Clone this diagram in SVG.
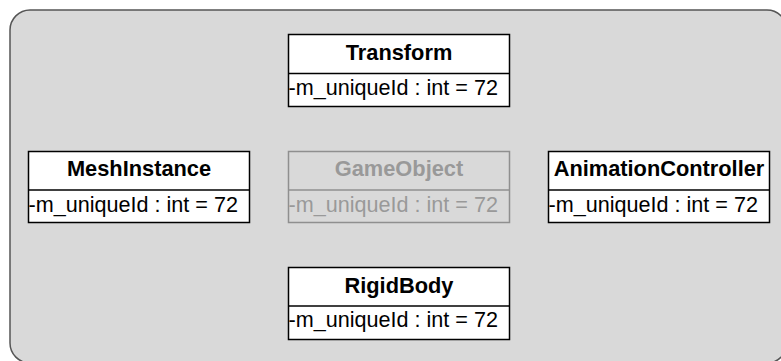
<svg xmlns="http://www.w3.org/2000/svg" width="781" height="361" viewBox="0 0 781 361">
<style>
.bg{fill:#d9d9d9;stroke:#555;stroke-width:1.5}
.box{fill:#fff;stroke:#000;stroke-width:1.5}
.t{font-family:"Liberation Sans",Arial,sans-serif;font-size:21.8px;font-weight:bold;text-anchor:middle;fill:#000}
.a{font-family:"Liberation Sans",Arial,sans-serif;font-size:21.6px;fill:#000}
.dim .box{fill:none;stroke:#8f8f8f}
.dim .t,.dim .a{fill:#999}
</style>
<rect class="bg" x="10" y="10" width="777" height="353" rx="20"/>
<g id="connectors"/>
<g id="Transform">
<rect class="box" x="288.5" y="34.5" width="221" height="72"/>
<line class="box" x1="288.5" y1="73.5" x2="509.5" y2="73.5"/>
<text class="t" x="399" y="60">Transform</text>
<text class="a" x="288.5" y="95">-m_uniqueId : int = 72</text>
</g>
<g id="GameObject" class="dim">
<rect class="box" x="288.5" y="151.5" width="221" height="71"/>
<line class="box" x1="288.5" y1="190" x2="509.5" y2="190"/>
<text class="t" x="399" y="176">GameObject</text>
<text class="a" x="288.5" y="212">-m_uniqueId : int = 72</text>
</g>
<g id="MeshInstance">
<rect class="box" x="28.5" y="151.5" width="221" height="71"/>
<line class="box" x1="28.5" y1="190" x2="249.5" y2="190"/>
<text class="t" x="139" y="176">MeshInstance</text>
<text class="a" x="28.5" y="212">-m_uniqueId : int = 72</text>
</g>
<g id="AnimationController">
<rect class="box" x="548.5" y="151.5" width="221" height="71"/>
<line class="box" x1="548.5" y1="190" x2="769.5" y2="190"/>
<text class="t" x="659" y="176">AnimationController</text>
<text class="a" x="548.5" y="212">-m_uniqueId : int = 72</text>
</g>
<g id="RigidBody">
<rect class="box" x="288.5" y="267.5" width="221" height="72"/>
<line class="box" x1="288.5" y1="306" x2="509.5" y2="306"/>
<text class="t" x="399" y="292.5">RigidBody</text>
<text class="a" x="288.5" y="327">-m_uniqueId : int = 72</text>
</g>
</svg>
